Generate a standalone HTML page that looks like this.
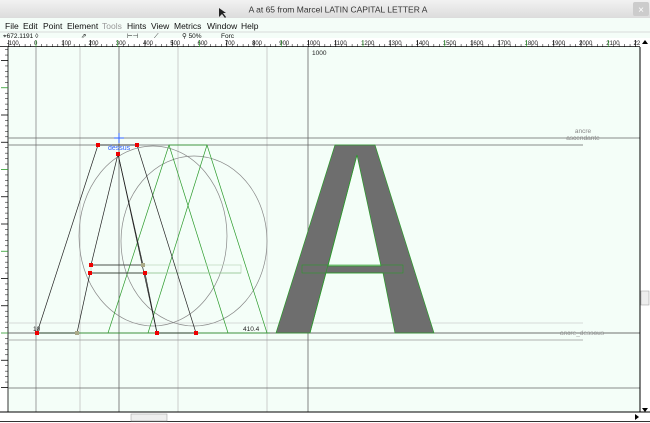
<!DOCTYPE html>
<html><head><meta charset="utf-8"><style>
body{margin:0;width:650px;height:423px;overflow:hidden;background:#fff;font-family:"Liberation Sans",sans-serif}
svg{display:block}
</style></head><body>
<svg width="650" height="423" viewBox="0 0 650 423" font-family="Liberation Sans, sans-serif">
<defs><linearGradient id="tb" x1="0" y1="0" x2="0" y2="1"><stop offset="0" stop-color="#f2f2f2"/><stop offset="1" stop-color="#dcdcdc"/></linearGradient>
<clipPath id="vclip"><rect x="0" y="47" width="9" height="365"/></clipPath>
<clipPath id="hclip"><rect x="0" y="38" width="640" height="9"/></clipPath></defs>
<rect x="0" y="0" width="650" height="18" fill="url(#tb)"/>
<text x="338" y="12.5" font-size="8.5" text-anchor="middle" fill="#333">A at 65 from Marcel LATIN CAPITAL LETTER A</text>
<rect x="633" y="2" width="16" height="14" rx="2" fill="#ccc"/>
<text x="641" y="13" font-size="10" text-anchor="middle" fill="#fff">×</text>
<polygon points="219,8 219,17 222,14 225,18 226,17 223,13 226,13" fill="#222"/>
<rect x="0" y="18" width="650" height="20" fill="#f4fdf8"/>
<g font-size="8.5" fill="#111">
<text x="5" y="29">File</text>
<text x="23" y="29">Edit</text>
<text x="43" y="29">Point</text>
<text x="67" y="29">Element</text>
<text x="102" y="29" fill="#999">Tools</text>
<text x="127" y="29">Hints</text>
<text x="151" y="29">View</text>
<text x="174" y="29">Metrics</text>
<text x="207" y="29">Window</text>
<text x="241" y="29">Help</text>
</g>
<line x1="0" y1="32" x2="650" y2="32" stroke="#bbb" stroke-width="0.6"/>
<g font-size="6.5" fill="#111">
<text x="3" y="38">⌖672.1191 ◊</text>
<text x="81" y="38">⇗</text><text x="127" y="38">⊢⊣</text><text x="154" y="38">⟋</text>
<text x="182" y="38">⚲ 50%</text>
<text x="221" y="38">Forc</text>
</g>
<rect x="0" y="39" width="640" height="8" fill="#fff"/>
<line x1="0" y1="46.5" x2="640" y2="46.5" stroke="#000" stroke-width="0.8"/>
<g id="hruler" font-size="6" fill="#222" clip-path="url(#hclip)"></g>
<rect x="0" y="47" width="8" height="365" fill="#fff"/>
<line x1="8" y1="47" x2="8" y2="412" stroke="#000" stroke-width="0.8"/>
<g id="vruler" clip-path="url(#vclip)"></g>
<rect x="8.5" y="47" width="631" height="365" fill="#f4fef8"/>
<g stroke="#bbb" stroke-width="0.7">
<line x1="80" y1="47" x2="80" y2="412"/><line x1="178" y1="47" x2="178" y2="412"/><line x1="267" y1="47" x2="267" y2="412"/>
<line x1="8" y1="323" x2="583" y2="323" stroke="#ccc"/>
<line x1="8" y1="340" x2="583" y2="340" stroke="#999"/>
</g>
<g stroke="#666" stroke-width="0.8">
<line x1="36" y1="47" x2="36" y2="412" stroke="#888"/>
<line x1="119" y1="47" x2="119" y2="412"/>
<line x1="308" y1="47" x2="308" y2="412"/>
<line x1="8" y1="138" x2="640" y2="138"/>
<line x1="8" y1="145" x2="583" y2="145"/>
<line x1="8" y1="333" x2="640" y2="333" stroke="#444"/>
<line x1="8" y1="388" x2="640" y2="388"/>
</g>
<text x="312" y="55" font-size="6.5" fill="#222">1000</text>
<text x="583" y="133" font-size="6.5" fill="#888" text-anchor="middle">ancre</text>
<text x="583" y="140" font-size="6.5" fill="#888" text-anchor="middle">ascendante</text>
<text x="582" y="335" font-size="6.5" fill="#999" text-anchor="middle">ancre_dessous</text>
<path d="M276,333 L335,145 L375,145 L434,333 L395,333 L383,273 L326,273 L310,333 Z M357,155 L328,266 L381,266 Z" fill="#6e6e6e" fill-rule="evenodd" stroke="#2a9a2a" stroke-width="0.7"/>
<line x1="310" y1="333" x2="357" y2="155" stroke="#2a9a2a" stroke-width="0.6"/>
<rect x="302" y="265" width="101" height="8" fill="none" stroke="#2a9a2a" stroke-width="0.6"/>
<g fill="none" stroke="#888" stroke-width="0.7">
<ellipse cx="153" cy="236" rx="74" ry="90"/>
<ellipse cx="194" cy="241" rx="73" ry="85"/>
</g>
<g fill="none" stroke="#2a9a2a" stroke-width="0.7">
<polyline points="108,333 169,145 207,145 267,333"/>
<line x1="148" y1="333" x2="207" y2="145"/>
<line x1="169" y1="145" x2="228" y2="333"/>
<line x1="90" y1="273" x2="241" y2="273"/>
<rect x="91" y="265" width="150" height="8" stroke="#bcd8bc"/>
<line x1="36" y1="333" x2="270" y2="333"/>
</g>
<g fill="none" stroke="#222" stroke-width="0.7">
<polyline points="37,333 98,145 137,145 196,333 157,333 145,273 90,273 77,333 37,333"/>
<polyline points="118,154 91,265 143,265 118,154"/>
<line x1="118" y1="154" x2="157" y2="333"/>
</g>
<g fill="#e00">
<rect x="96" y="143" width="4" height="4"/><rect x="135" y="143" width="4" height="4"/>
<rect x="116" y="152" width="4" height="4"/><rect x="89" y="263" width="4" height="4"/>
<rect x="88" y="271" width="4" height="4"/><rect x="143" y="271" width="4" height="4"/>
<rect x="155" y="331" width="4" height="4"/><rect x="194" y="331" width="4" height="4"/>
<rect x="35" y="331" width="4" height="4"/>
<rect x="141" y="263" width="4" height="4" fill="#aa8"/><rect x="75" y="331" width="4" height="4" fill="#aa8"/>
</g>
<g stroke="#3060ff" stroke-width="1">
<line x1="114" y1="138" x2="124" y2="138"/><line x1="119" y1="133" x2="119" y2="143"/>
</g>
<text x="108" y="150" font-size="7" fill="#3060ff">dessus</text>
<text x="33" y="331" font-size="6.5" fill="#222">10</text>
<text x="243" y="331" font-size="6.5" fill="#222">410.4</text>
<rect x="640" y="47" width="10" height="376" fill="#fff"/>
<line x1="640" y1="47" x2="640" y2="412" stroke="#000"/>
<polygon points="642,44 648,44 645,40" fill="#000"/><polygon points="642,408 648,408 645,412" fill="#000"/>
<rect x="641" y="291" width="8" height="14" fill="#eee" stroke="#999" stroke-width="0.5"/>
<rect x="0" y="412" width="640" height="11" fill="#fff"/>
<line x1="0" y1="412" x2="650" y2="412" stroke="#000"/>
<line x1="0" y1="421.5" x2="650" y2="421.5" stroke="#333"/>
<rect x="131" y="414" width="36" height="7" fill="#eee" stroke="#999" stroke-width="0.5"/>
<polygon points="635,414 635,420 639,417" fill="#000"/>
</svg>
<script>
const rulerLabels=[-100,0,100,200,300,400,500,600,700,800,900,1000,1100,1200,1300,1400,1500,1600,1700,1800,1900,2000,2100,2200];
const vTicks=[-200,-100,0,100,200,300,400,500,600,700,800,900,1000,1100];
const NS="http://www.w3.org/2000/svg";
const ux=v=>36+v*0.2725;
const uy=v=>333-v*0.2725;
const hr=document.getElementById('hruler');
rulerLabels.forEach(v=>{
  const x=ux(v);
  const t=document.createElementNS(NS,'text');
  
  
  t.setAttribute('x',x-2);t.setAttribute('y',45);t.textContent=v;hr.appendChild(t);
  const l=document.createElementNS(NS,'line');
  
  
  l.setAttribute('x1',x);l.setAttribute('x2',x);l.setAttribute('y1',40);l.setAttribute('y2',47);
  l.setAttribute('stroke',v%300===0?'#2a9a2a':'#000');l.setAttribute('stroke-width',0.7);hr.appendChild(l);
  for(let k=1;k<5;k++){const m=document.createElementNS(NS,'line');const mx=ux(v+k*20);
    m.setAttribute('x1',mx);m.setAttribute('x2',mx);m.setAttribute('y1',44);m.setAttribute('y2',47);m.setAttribute('stroke','#000');m.setAttribute('stroke-width',0.5);hr.appendChild(m);}
});
const vr=document.getElementById('vruler');
vTicks.forEach(v=>{
  const y=uy(v);
  const l=document.createElementNS(NS,'line');
  
  
  l.setAttribute('x1',1);l.setAttribute('x2',8);l.setAttribute('y1',y);l.setAttribute('y2',y);
  l.setAttribute('stroke',v%300===0?'#2a9a2a':'#000');l.setAttribute('stroke-width',0.8);vr.appendChild(l);
  for(let k=1;k<5;k++){const m=document.createElementNS(NS,'line');const my=uy(v+k*20);
    m.setAttribute('x1',5);m.setAttribute('x2',8);m.setAttribute('y1',my);m.setAttribute('y2',my);m.setAttribute('stroke','#000');m.setAttribute('stroke-width',0.5);vr.appendChild(m);}
});
</script>
</body></html>
